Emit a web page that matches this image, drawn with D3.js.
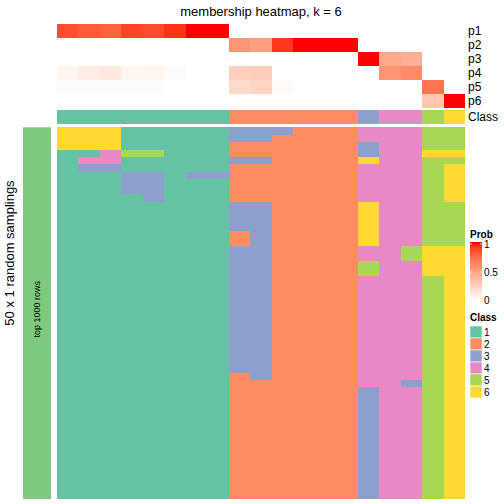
<!DOCTYPE html>
<html>
<head>
<meta charset="utf-8">
<script src="https://cdn.jsdelivr.net/npm/d3@7"></script>
<style>
  html, body { margin: 0; padding: 0; background: #fff; }
  svg { display: block; font-family: "Liberation Sans", Arial, Helvetica, sans-serif; }
</style>
</head>
<body>
<svg id="chart" width="504" height="504"></svg>
<script>
// ---------- data ----------
const probRows = ["p1", "p2", "p3", "p4", "p5", "p6"];
const p1 = [0.85, 0.80, 0.78, 0.88, 0.86, 0.93, 1, 1, 0, 0, 0, 0, 0, 0, 0, 0, 0, 0, 0];
const p2 = [0, 0, 0, 0, 0, 0, 0, 0, 0.55, 0.50, 0.92, 1, 1, 1, 0, 0, 0, 0, 0];
const p3 = [0, 0, 0, 0, 0, 0, 0, 0, 0, 0, 0, 0, 0, 0, 1, 0.45, 0.42, 0, 0];
const p4 = [0.06, 0.10, 0.12, 0.05, 0.06, 0.02, 0, 0, 0.25, 0.27, 0, 0, 0, 0, 0, 0.55, 0.60, 0, 0];
const p5 = [0.02, 0.02, 0.02, 0.02, 0.02, 0, 0, 0, 0.20, 0.23, 0.03, 0, 0, 0, 0, 0, 0, 0.70, 0];
const p6 = [0, 0, 0, 0, 0, 0, 0, 0, 0, 0, 0, 0, 0, 0, 0, 0, 0, 0.30, 1];
const sampleClass = [1, 1, 1, 1, 1, 1, 1, 1, 2, 2, 2, 2, 2, 2, 3, 4, 4, 5, 6];
const classLevels = ["1", "2", "3", "4", "5", "6"];
const classColors = ["#66C2A5", "#FC8D62", "#8DA0CB", "#E78AC3", "#A6D854", "#FFD92F"];
// one string per random sampling (row), one digit per sample (column)
const samplings = [
  "6661111133322244455",
  "6661111133222244455",
  "6661111122222234455",
  "1145511122222234466",
  "1441111133222264455",
  "1331111122222244456",
  "1113313322222244456",
  "1113311122222244456",
  "1113311122222244456",
  "1111311122222244456",
  "1111111133222264455",
  "1111111133222264455",
  "1111111133222264455",
  "1111111133222264455",
  "1111111123222264455",
  "1111111123222264455",
  "1111111133222244566",
  "1111111133222244566",
  "1111111133222254466",
  "1111111133222254466",
  "1111111133222244456",
  "1111111133222244456",
  "1111111133222244456",
  "1111111133222244456",
  "1111111133222244456",
  "1111111133222244456",
  "1111111133222244456",
  "1111111133222244456",
  "1111111133222244456",
  "1111111133222244456",
  "1111111133222244456",
  "1111111133222244456",
  "1111111133222244456",
  "1111111123222244456",
  "1111111122222244356",
  "1111111122222234456",
  "1111111122222234456",
  "1111111122222234456",
  "1111111122222234456",
  "1111111122222234456",
  "1111111122222234456",
  "1111111122222234456",
  "1111111122222234456",
  "1111111122222234456",
  "1111111122222234456",
  "1111111122222234456",
  "1111111122222234456",
  "1111111122222234456",
  "1111111122222234456",
  "1111111122222234456"
];
const probTicks = [0, 0.5, 1];

// ---------- drawing ----------
const probs = [p1, p2, p3, p4, p5, p6];
const nCol = sampleClass.length;
const svg = d3.select("#chart");

const x = d3.scaleBand().domain(d3.range(nCol)).range([57, 465]);
const yAnno = d3.scaleBand().domain(probRows).range([24, 108]);
const yClass = d3.scaleBand().domain(["Class"]).range([110, 124]);
const y = d3.scaleBand().domain(d3.range(samplings.length)).range([127.3, 499]);
const probColor = d3.scaleLinear().domain([0, 1]).range(["#FFFFFF", "#FF0000"]).interpolate(d3.interpolateLab);
const classColor = d3.scaleOrdinal().domain(classLevels).range(classColors);

// title
svg.append("text").attr("x", 261).attr("y", 16).attr("text-anchor", "middle")
  .attr("font-size", 13).text("membership heatmap, k = 6");

// probability annotation rows
const annoG = svg.append("g").attr("shape-rendering", "crispEdges");
probRows.forEach((r, i) => {
  annoG.selectAll(null).data(probs[i]).enter().append("rect")
    .attr("x", (d, j) => x(j)).attr("y", yAnno(r))
    .attr("width", x.bandwidth()).attr("height", yAnno.bandwidth())
    .attr("fill", d => probColor(d));
});
annoG.selectAll(null).data(sampleClass).enter().append("rect")
  .attr("x", (d, j) => x(j)).attr("y", yClass("Class"))
  .attr("width", x.bandwidth()).attr("height", yClass.bandwidth())
  .attr("fill", d => classColor(String(d)));

// row labels on the right
svg.selectAll(null).data(probRows.concat(["Class"])).enter().append("text")
  .attr("x", 468)
  .attr("y", d => d === "Class" ? yClass(d) + yClass.bandwidth() / 2 : yAnno(d) + yAnno.bandwidth() / 2)
  .attr("dy", "0.35em").attr("font-size", 12).text(d => d);

// main heatmap
const cells = [];
samplings.forEach((s, i) => s.split("").forEach((c, j) => cells.push({ i, j, c })));
svg.append("g").attr("shape-rendering", "crispEdges")
  .selectAll("rect").data(cells).enter().append("rect")
  .attr("x", d => x(d.j)).attr("y", d => y(d.i))
  .attr("width", x.bandwidth()).attr("height", y.bandwidth())
  .attr("fill", d => classColor(d.c));

// left annotation
svg.append("rect").attr("x", 23).attr("y", y.range()[0]).attr("width", 28)
  .attr("height", y.range()[1] - y.range()[0]).attr("fill", "#7FC97F");
svg.append("text").attr("transform", `translate(40,${(y.range()[0] + y.range()[1]) / 2 - 4}) rotate(-90)`)
  .attr("text-anchor", "middle").attr("font-size", 9).text("top 1000 rows");
svg.append("text").attr("transform", "translate(14,253) rotate(-90)")
  .attr("text-anchor", "middle").attr("font-size", 13).text("50 x 1 random samplings");

// legend: Prob
const lg = svg.append("g");
lg.append("text").attr("x", 470).attr("y", 238).attr("font-size", 10).attr("font-weight", "bold").text("Prob");
const defs = svg.append("defs");
const grad = defs.append("linearGradient").attr("id", "pgrad").attr("x1", 0).attr("y1", 1).attr("x2", 0).attr("y2", 0);
d3.range(0, 1.0001, 0.1).forEach(t => grad.append("stop").attr("offset", t).attr("stop-color", probColor(t)));
const yLeg = d3.scaleLinear().domain([0, 1]).range([300, 244]);
lg.append("rect").attr("x", 470).attr("y", yLeg(1) - 2).attr("width", 12)
  .attr("height", yLeg(0) - yLeg(1) + 2).attr("fill", "url(#pgrad)");
probTicks.forEach(t => {
  lg.append("line").attr("x1", 470).attr("x2", 472).attr("y1", yLeg(t)).attr("y2", yLeg(t)).attr("stroke", "#fff").attr("stroke-width", 0.8);
  lg.append("line").attr("x1", 480).attr("x2", 482).attr("y1", yLeg(t)).attr("y2", yLeg(t)).attr("stroke", "#fff").attr("stroke-width", 0.8);
  lg.append("text").attr("x", 484).attr("y", yLeg(t)).attr("dy", "0.35em").attr("font-size", 10).text(t);
});

// legend: Class
lg.append("text").attr("x", 470).attr("y", 321).attr("font-size", 10).attr("font-weight", "bold").text("Class");
const yCl = d3.scaleBand().domain(classLevels).range([326, 398]);
lg.selectAll(null).data(classLevels).enter().append("rect")
  .attr("x", 470).attr("y", d => yCl(d)).attr("width", 12).attr("height", yCl.bandwidth())
  .attr("fill", d => classColor(d)).attr("stroke", "#fff").attr("stroke-width", 0.6);
lg.selectAll(null).data(classLevels).enter().append("text")
  .attr("x", 484).attr("y", d => yCl(d) + yCl.bandwidth() / 2).attr("dy", "0.35em")
  .attr("font-size", 10).text(d => d);
</script>
</body>
</html>
